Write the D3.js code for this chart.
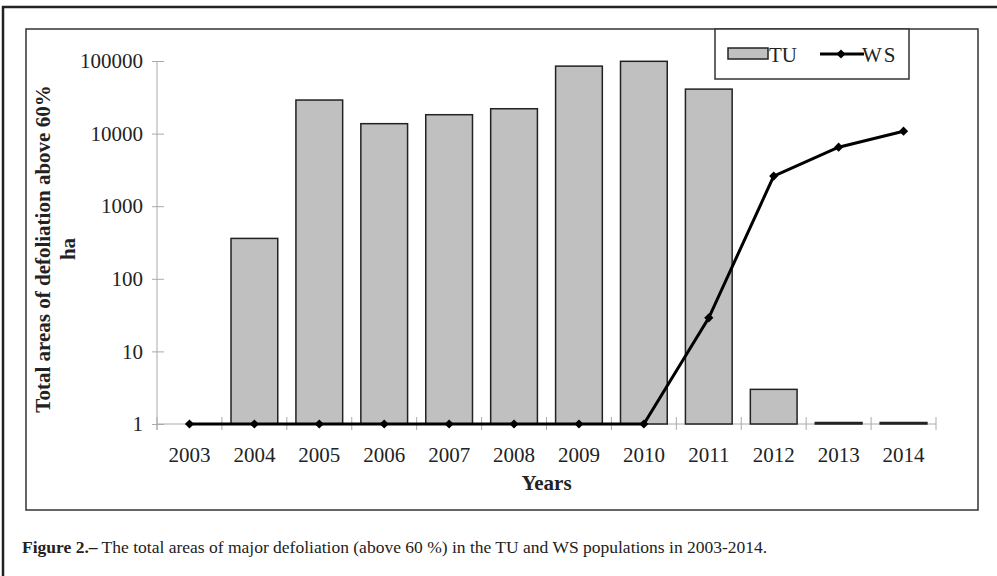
<!DOCTYPE html>
<html>
<head>
<meta charset="utf-8">
<script src="https://cdn.jsdelivr.net/npm/d3@7"></script>
<style>
  body { margin: 0; background: white; }
  text { font-family: "Liberation Serif", "DejaVu Serif", serif; }
</style>
</head>
<body>
<script>
var w = 997;
var h = 576;

// data
var years = ["2003","2004","2005","2006","2007","2008","2009","2010","2011","2012","2013","2014"];
var tuValues = [null, 360, 29000, 13700, 18200, 22000, 85000, 99000, 41000, 3, 1, 1];
var wsValues = [1, 1, 1, 1, 1, 1, 1, 1, 29, 2600, 6500, 10800];
var yTicks = [1, 10, 100, 1000, 10000, 100000];

var plotL = 157, plotR = 936, plotT = 61, plotB = 424;

var svg = d3.select("body").append("svg")
    .attr("width", w)
    .attr("height", h)

// outer figure frame (only top and left visible)
svg.append("path")
    .attr("d", "M3,576V7H997")
    .attr("fill", "none")
    .attr("stroke", "#222")
    .attr("stroke-width", 2.5)

// chart frame
svg.append("rect")
    .attr("x", 26).attr("y", 29)
    .attr("width", 952).attr("height", 481)
    .attr("fill", "none")
    .attr("stroke", "#333")
    .attr("stroke-width", 1.5)

var x = d3.scaleBand()
    .domain(years)
    .range([plotL, plotR])
    .paddingInner(0.28)
    .paddingOuter(0.14);

var y = d3.scaleLog()
    .domain([1, 100000])
    .range([plotB, plotT]);

// y axis
var yAxis = svg.append("g")
    .attr("transform", "translate(" + plotL + ",0)")
    .call(d3.axisLeft(y).tickValues(yTicks).tickFormat(d3.format("d"))
        .tickSizeOuter(0).tickSizeInner(5).tickPadding(9));
yAxis.select(".domain").attr("stroke", "#aaa").attr("d", "M0," + plotT + "V" + (plotB + 6));
yAxis.selectAll(".tick line").attr("stroke", "#aaa").attr("x1", 7);
yAxis.selectAll(".tick text")
    .attr("fill", "#222")
    .style("font-family", "Liberation Serif")
    .style("font-size", "21px");

// x axis
var xAxis = svg.append("g")
    .attr("transform", "translate(0," + plotB + ")")
    .call(d3.axisBottom(x).tickSize(0).tickPadding(23));
xAxis.select(".domain").attr("stroke", "#aaa").attr("d", "M" + plotL + ",0H" + plotR);
xAxis.selectAll(".tick text")
    .attr("fill", "#222")
    .style("font-family", "Liberation Serif")
    .style("font-size", "21px");

var step = x.step();
var bounds = d3.range(years.length + 1).map(function(i){ return plotL + i*step; });
xAxis.selectAll(".bound")
    .data(bounds)
    .enter().append("line")
    .attr("x1", function(d){ return d; })
    .attr("x2", function(d){ return d; })
    .attr("y1", -7).attr("y2", 6)
    .attr("stroke", "#aaa");

// TU bars
var barData = years.map(function(d, i){ return {year: d, v: tuValues[i]}; })
    .filter(function(d){ return d.v != null; });

svg.selectAll(".bar")
    .data(barData)
    .enter().append("rect")
    .attr("x", function(d){ return x(d.year); })
    .attr("y", function(d){ return d.v > 1 ? y(d.v) : y(1) - 1.5; })
    .attr("width", x.bandwidth())
    .attr("height", function(d){ return d.v > 1 ? y(1) - y(d.v) : 1.5; })
    .attr("fill", "#c0c0c0")
    .attr("stroke", "#222")
    .attr("stroke-width", 1.5)

// WS line
var wsData = years.map(function(d, i){ return {year: d, v: wsValues[i]}; });
var line = d3.line()
    .x(function(d){ return x(d.year) + x.bandwidth()/2; })
    .y(function(d){ return y(d.v); });

svg.append("path")
    .datum(wsData)
    .attr("d", line)
    .attr("fill", "none")
    .attr("stroke", "#000")
    .attr("stroke-width", 3)

var diamond = d3.symbol().type(d3.symbolSquare).size(42);
svg.selectAll(".pt")
    .data(wsData)
    .enter().append("path")
    .attr("d", diamond)
    .attr("transform", function(d){
        return "translate(" + (x(d.year) + x.bandwidth()/2) + "," + y(d.v) + ")rotate(45)";
    })
    .attr("fill", "#000")

// legend
var lg = svg.append("g");
lg.append("rect")
    .attr("x", 715).attr("y", 29)
    .attr("width", 194).attr("height", 50)
    .attr("fill", "white")
    .attr("stroke", "#333")
    .attr("stroke-width", 1.5)
lg.append("rect")
    .attr("x", 728).attr("y", 48)
    .attr("width", 40).attr("height", 11)
    .attr("fill", "#c0c0c0")
    .attr("stroke", "#222")
    .attr("stroke-width", 1.5)
lg.append("text")
    .attr("x", 769).attr("y", 62)
    .style("font-size", "21px")
    .attr("fill", "#222")
    .text("TU")
lg.append("line")
    .attr("x1", 820).attr("x2", 864)
    .attr("y1", 54).attr("y2", 54)
    .attr("stroke", "#000")
    .attr("stroke-width", 3)
lg.append("path")
    .attr("d", diamond)
    .attr("transform", "translate(841,54)rotate(45)")
    .attr("fill", "#000")
lg.append("text")
    .attr("x", 862).attr("y", 62)
    .style("font-size", "21px")
    .style("letter-spacing", "2px")
    .attr("fill", "#222")
    .text("WS")

// axis titles
var yt = svg.append("text")
    .attr("transform", "translate(50,249)rotate(-90)")
    .attr("text-anchor", "middle")
    .style("font-size", "21px")
    .style("font-weight", "bold")
    .attr("fill", "#222");
yt.append("tspan").attr("x", 0).attr("y", 0).text("Total areas of defoliation above 60%");
yt.append("tspan").attr("x", 0).attr("y", 25).text("ha");

svg.append("text")
    .attr("x", (plotL + plotR)/2)
    .attr("y", 490)
    .attr("text-anchor", "middle")
    .style("font-size", "21px")
    .style("font-weight", "bold")
    .attr("fill", "#222")
    .text("Years")

// caption
var cap = svg.append("text")
    .attr("x", 22).attr("y", 553)
    .style("font-size", "17.5px")
    .attr("fill", "#222");
cap.append("tspan").style("font-weight", "bold").text("Figure 2.–");
cap.append("tspan").text(" The total areas of major defoliation (above 60 %) in the TU and WS populations in 2003-2014.");
</script>
</body>
</html>
